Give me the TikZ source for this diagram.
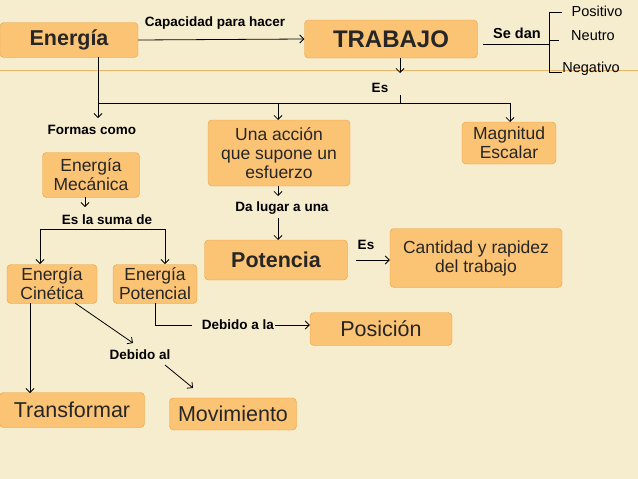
\documentclass[tikz,border=0pt]{standalone}
\usepackage{fontspec}
\setmainfont{Liberation Sans}
\usetikzlibrary{positioning,arrows.meta}
\definecolor{fondo}{HTML}{F6EDCF}
\definecolor{caja}{HTML}{FBC374}
\definecolor{cajab}{HTML}{E9A040}
\definecolor{raya}{HTML}{E8B46A}
\begin{document}
\begin{tikzpicture}[x=1pt,y=-1pt]
\tikzset{
  caja/.style={draw=cajab,fill=caja,rounded corners=4pt,align=center,text=black!85,inner sep=2pt,font=\fontsize{17.5}{19}\selectfont},
  grande/.style={font=\fontsize{21.5}{23}\selectfont},
  etq/.style={font=\bfseries\fontsize{13.5}{15}\selectfont,inner sep=1pt},
  lado/.style={inner sep=1pt,font=\fontsize{14.5}{16}\selectfont},
  flecha/.style={-{Straight Barb[length=4pt]},thick}
}
\fill [fondo] (0,0) rectangle (638,479);
\useasboundingbox (0,0) rectangle (638,479);
\draw [raya] (0,70) -- (638,70);
% cajas
\node [caja,minimum width=138,minimum height=35,font=\bfseries\fontsize{21.5}{23}\selectfont] (energia) at (69,40) {Energía};
\node [caja,minimum width=173,minimum height=38,font=\bfseries\fontsize{24}{26}\selectfont] (trabajo) at (391,39) {TRABAJO};
\node [caja,minimum width=142,minimum height=66] (accion) at (279,153) {Una acción\\que supone un\\esfuerzo};
\node [caja,minimum width=94,minimum height=42] (escalar) at (509,143) {Magnitud\\Escalar};
\node [caja,minimum width=97,minimum height=45] (mecanica) at (91,175) {Energía\\Mecánica};
\node [caja,minimum width=143,minimum height=40,font=\bfseries\fontsize{21.5}{23}\selectfont] (potencia) at (276,260) {Potencia};
\node [caja,minimum width=172,minimum height=59] (cantidad) at (476,258) {Cantidad y rapidez\\del trabajo};
\node [caja,minimum width=90,minimum height=39] (cinetica) at (52,284) {Energía\\Cinética};
\node [caja,minimum width=84,minimum height=39] (potencial) at (155,284) {Energía\\Potencial};
\node [caja,grande,minimum width=142,minimum height=33] (posicion) at (381,329) {Posición};
\node [caja,grande,minimum width=145,minimum height=35] (transformar) at (72,410) {Transformar};
\node [caja,grande,minimum width=127,minimum height=32] (movimiento) at (233,414) {Movimiento};
% etiquetas
\node [etq] (capacidad) at (215,23) {Capacidad para hacer};
\node [etq,font=\bfseries\fontsize{14.5}{16}\selectfont] (sedan) at (517,33) {Se dan};
\node [lado] (positivo) at (597,11) {Positivo};
\node [lado] (neutro) at (593,36) {Neutro};
\node [lado] (negativo) at (591,69) {Negativo};
\node [etq] (es1) at (380,88) {Es};
\node [etq] (formas) at (92,130) {Formas como};
\node [etq] (suma) at (107,220) {Es la suma de};
\node [etq] (lugar) at (282,208) {Da lugar a una};
\node [etq] (es2) at (366,245) {Es};
\node [etq] (debidoal) at (140,355) {Debido al};
\node [etq] (debidoala) at (238,325) {Debido a la};
% conectores
\draw [flecha] (energia.east) -- (trabajo.west);
\draw [thick] (483,44) -- (549,44);
\draw [thick] (549,12) -- (549,72);
\draw [thick] (549,12) -- (562,12);
\draw [thick] (549,40) -- (559,40);
\draw [thick] (549,72) -- (562,72);
\draw [flecha] (400,58) -- (400,73);
\draw [thick] (400,95) -- (400,103);
\draw [thick] (98,103) -- (510,103);
\draw [flecha] (98,57) -- (98,118);
\draw [flecha] (278,103) -- (278,120);
\draw [flecha] (510,103) -- (510,122);
\draw [flecha] (85,197) -- (85,207);
\draw [thick] (40,229) -- (165,229);
\draw [flecha] (40,229) -- (40,264);
\draw [flecha] (165,229) -- (165,264);
\draw [flecha] (278,186) -- (278,196);
\draw [flecha] (278,218) -- (278,240);
\draw [flecha] (356,260) -- (cantidad.west |- potencia.east);
\draw [flecha] (30,303) -- (30,393);
\draw [flecha] (75,303) -- (133,343);
\draw [flecha] (165,365) -- (193,388);
\draw [thick] (155,303) -- (155,325) -- (192,325);
\draw [flecha] (debidoala.east) -- (posicion.west |- debidoala.east);
\end{tikzpicture}
\end{document}
